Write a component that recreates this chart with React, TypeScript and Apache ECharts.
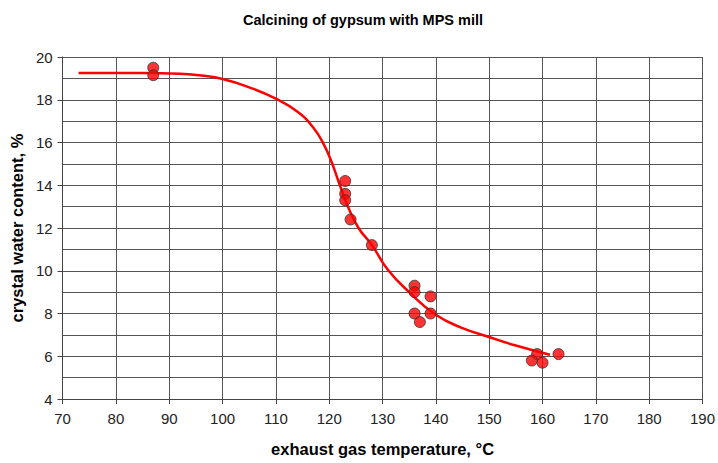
import React, { useEffect, useRef } from "react";
import * as echarts from "echarts";

const titleText = "Calcining of gypsum with MPS mill";
const xAxisName = "exhaust gas temperature, °C";
const yAxisName = "crystal water content, %";

// measured points: temperature (°C), crystal water content (%)
const measuredTemp = [87, 87, 123, 123, 123, 124, 128, 136, 136, 139, 136, 139, 137, 159, 158, 160, 163];
const measuredWater = [19.5, 19.15, 14.2, 13.6, 13.3, 12.4, 11.2, 9.3, 9.0, 8.8, 8.0, 8.0, 7.6, 6.1, 5.8, 5.7, 6.1];

// fitted trend curve
const curveTemp = [73, 85, 92, 96, 100, 105, 110, 114, 117, 119, 120.5, 122, 123.6, 125.5, 128, 131, 135, 140, 145, 150, 155, 161.4];
const curveWater = [19.25, 19.25, 19.22, 19.13, 18.97, 18.58, 18.05, 17.45, 16.7, 15.9, 15.05, 14.0, 12.95, 12.0, 11.2, 10.05, 9.0, 7.94, 7.32, 6.9, 6.5, 6.07];

const FONT = "'Liberation Sans', Arial, sans-serif";
const GRID_COLOR = "#555";

export default function App() {
  const ref = useRef<HTMLDivElement>(null);
  useEffect(() => {
    if (!ref.current) return;
    const chart = echarts.init(ref.current, undefined, { renderer: "svg" });
    const scatterData = measuredTemp.map((t, i) => [t, measuredWater[i]]);
    const curveData = curveTemp.map((t, i) => [t, curveWater[i]]);
    chart.setOption({
      animation: false,
      backgroundColor: "#fff",
      textStyle: { fontFamily: FONT },
      title: {
        text: titleText,
        left: 358,
        top: 7,
        textAlign: "center",
        textStyle: { fontFamily: FONT, fontSize: 14.5, fontWeight: "bold", color: "#000" },
      },
      grid: { left: 62, right: 15, top: 57, bottom: 64, containLabel: false },
      xAxis: {
        type: "value",
        min: 70,
        max: 190,
        interval: 10,
        name: xAxisName,
        nameLocation: "middle",
        nameGap: 41,
        nameTextStyle: { fontFamily: FONT, fontSize: 16.5, fontWeight: "bold", color: "#000" },
        axisLine: { show: true, onZero: false, lineStyle: { color: "#444", width: 1 } },
        axisTick: { show: true, length: 5, lineStyle: { color: "#444" } },
        axisLabel: { fontFamily: FONT, fontSize: 15, color: "#222", margin: 12 },
        splitLine: { show: true, lineStyle: { color: GRID_COLOR, width: 1 } },
      },
      yAxis: {
        type: "value",
        min: 4,
        max: 20,
        interval: 2,
        name: yAxisName,
        nameLocation: "middle",
        nameGap: 36,
        nameTextStyle: { fontFamily: FONT, fontSize: 16.5, fontWeight: "bold", color: "#000" },
        axisLine: { show: true, lineStyle: { color: "#444", width: 1 } },
        axisTick: { show: true, length: 5, lineStyle: { color: "#444" } },
        minorTick: { show: true, splitNumber: 2, length: 0, lineStyle: { opacity: 0 } },
        minorSplitLine: { show: true, lineStyle: { color: GRID_COLOR, width: 1 } },
        axisLabel: { fontFamily: FONT, fontSize: 15, color: "#222", margin: 10 },
        splitLine: { show: true, lineStyle: { color: GRID_COLOR, width: 1 } },
      },
      series: [
        {
          type: "line",
          data: curveData,
          smooth: 0.5,
          showSymbol: false,
          symbol: "none",
          lineStyle: { color: "#ff0000", width: 2.5 },
          z: 2,
        },
        {
          type: "scatter",
          data: scatterData,
          symbol: "circle",
          symbolSize: 11,
          itemStyle: { color: "#ff0000", borderColor: "#333", borderWidth: 1 },
          z: 3,
        },
      ],
    });
    return () => chart.dispose();
  }, []);
  return <div ref={ref} style={{ width: 718, height: 463, position: "absolute", left: 0, top: 0 }} />;
}
